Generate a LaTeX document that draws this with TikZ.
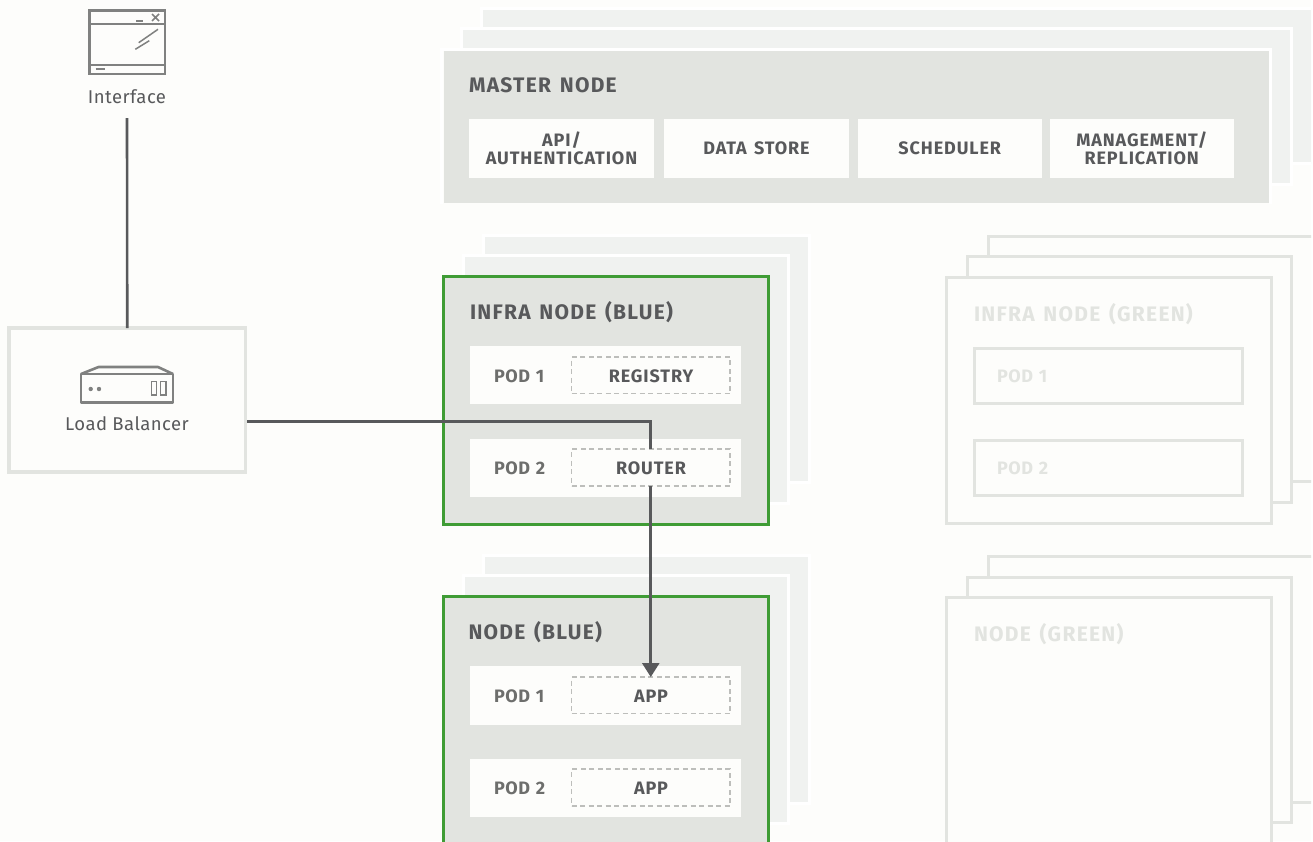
\documentclass[tikz,border=0pt]{standalone}
\usepackage{fontspec}
\usetikzlibrary{fit,arrows.meta}
\setmainfont{Fira Sans}
\newfontfamily\headfont[LetterSpace=6,WordSpace=1.4]{Fira Sans}
\newfontfamily\boxfont[LetterSpace=5,WordSpace=1.4]{Fira Sans}
\newfontfamily\podfont[LetterSpace=3,WordSpace=1.2,Numbers=Proportional]{Fira Sans}
\newfontfamily\plainfont[LetterSpace=2.5]{Fira Sans}
\definecolor{pagebg}{HTML}{FDFDFB}
\definecolor{panel}{HTML}{E2E4E0}
\definecolor{stack}{HTML}{F0F2F0}
\definecolor{ink}{HTML}{58595B}
\definecolor{podink}{HTML}{6D6E6C}
\definecolor{dashc}{HTML}{BDBEBB}
\definecolor{icon}{HTML}{808180}
\definecolor{grn}{HTML}{3F9C35}
\tikzset{
  x=1pt,y=-1pt,
  every node/.style={inner sep=0pt,outer sep=0pt},
  hd/.style={font=\headfont\bfseries\fontsize{21}{23}\selectfont,text=ink,anchor=west},
  hdoff/.style={hd,text=panel},
  podl/.style={font=\podfont\bfseries\fontsize{18}{20}\selectfont,text=podink,anchor=west},
  podoff/.style={podl,text=panel},
  boxl/.style={font=\boxfont\bfseries\fontsize{18}{18}\selectfont,text=ink,align=center},
  stackback/.style={fill=stack,draw=white,line width=3pt},
  panelbox/.style={fill=panel},
  bluenode/.style={fill=panel,draw=grn,line width=3pt},
  offnode/.style={fill=pagebg,draw=panel,line width=3pt},
  whitebox/.style={fill=pagebg},
  dashbox/.style={fill=pagebg,draw=dashc,line width=1.6pt,dash pattern=on 5pt off 3.5pt},
  offpod/.style={draw=panel,line width=3pt},
  wire/.style={draw=ink,line width=2.6pt},
  iconthick/.style={draw=icon,line width=2.6pt},
  iconthin/.style={draw=icon,line width=1.5pt},
  plain/.style={font=\plainfont\fontsize{18.5}{20}\selectfont,text=ink},
}
\begin{document}
\begin{tikzpicture}
\useasboundingbox (0,0) rectangle (1313,841);
\fill[white] (0,0) rectangle (1313,841);
\clip (0,0) rectangle (1311,841);
\fill[pagebg] (0,0) rectangle (1311,841);
% master stack
\path[stackback] (481.5,8) rectangle (1320,163.5);
\path[stackback] (461.5,28.5) rectangle (1291.5,184.5);
\draw[white,line width=3pt] (441.5,49.5) rectangle (1270.5,205);
\fill[pagebg] (440,204) rectangle (1273,210);
\node[panelbox,fit={(443.5,51)(1268.5,203)}] (master) {};
\node[hd] (mastert) at (469,85) {MASTER NODE};
\node[whitebox,fit={(469,119)(654,177.5)}] (api) {};
\node[whitebox,fit={(664,119)(849,177.5)}] (store) {};
\node[whitebox,fit={(857.5,119)(1042,177.5)}] (sched) {};
\node[whitebox,fit={(1049.5,119)(1234,177.5)}] (mgmt) {};
\node[boxl] (apit) at (api.center) {API/\\AUTHENTICATION};
\node[boxl] (storet) at (store.center) {DATA STORE};
\node[boxl] (schedt) at (sched.center) {SCHEDULER};
\node[boxl] (mgmtt) at (mgmt.center) {MANAGEMENT/\\REPLICATION};
% infra blue
\path[stackback] (483.5,235.5) rectangle (809.5,482.5);
\path[stackback] (463,255.5) rectangle (788.5,503.5);
\node[bluenode,fit={(443,276.5)(768,524)}] (infrab) {};
\node[hd] (infrabt) at (470,312) {INFRA NODE (BLUE)};
\node[whitebox,fit={(469.5,346)(741,404)}] (ib1) {};
\node[whitebox,fit={(469.5,438.5)(741,497)}] (ib2) {};
\node[podl] (ib1t) at (494,376) {POD 1};
\node[podl] (ib2t) at (494,468) {POD 2};
\node[dashbox,fit={(571.5,357)(730,393.5)}] (registry) {};
\node[dashbox,fit={(571.5,449)(730,486)}] (router) {};
\node[boxl] (registryt) at (651,376) {REGISTRY};
\node[boxl] (routert) at (651,468) {ROUTER};
% node blue
\path[stackback] (483.5,555.5) rectangle (809.5,803);
\path[stackback] (463,575.5) rectangle (788.5,823.5);
\node[bluenode,fit={(443,596.5)(768,860)}] (nodeb) {};
\node[hd] (nodebt) at (468.5,632) {NODE (BLUE)};
\node[whitebox,fit={(469.5,666)(741,724.5)}] (nb1) {};
\node[whitebox,fit={(469.5,758.7)(741,817)}] (nb2) {};
\node[podl] (nb1t) at (494,696) {POD 1};
\node[podl] (nb2t) at (494,788) {POD 2};
\node[dashbox,fit={(571.5,677)(730,713.5)}] (app1) {};
\node[dashbox,fit={(571.5,769)(730,806)}] (app2) {};
\node[boxl] (app1t) at (651,696) {APP};
\node[boxl] (app2t) at (651,788) {APP};
% infra green
\node[offnode,fit={(988,236)(1340,481.5)}] (ig3) {};
\node[offnode,fit={(967.5,256.5)(1291,502.5)}] (ig2) {};
\node[offnode,fit={(946.5,277)(1271,523.5)}] (ig1) {};
\node[hdoff] (igt) at (974,314) {INFRA NODE (GREEN)};
\node[offpod,fit={(974.7,348)(1242.7,403)}] (igp1) {};
\node[offpod,fit={(974.7,440.5)(1242.7,495)}] (igp2) {};
\node[podoff] (igp1t) at (997,376) {POD 1};
\node[podoff] (igp2t) at (997,468) {POD 2};
% node green
\node[offnode,fit={(988,556)(1340,802)}] (ng3) {};
\node[offnode,fit={(967.5,577)(1291,822.5)}] (ng2) {};
\node[offnode,fit={(946.5,597)(1271,860)}] (ng1) {};
\node[hdoff] (ngt) at (974,634) {NODE (GREEN)};
% load balancer
\node[fill=pagebg,draw=panel,line width=3.6pt,fit={(9,328)(245.5,472)}] (lb) {};
\node[plain] (lbt) at (127,424) {Load Balancer};
\draw[iconthick,line join=round,fill=pagebg] (81,374) -- (173,374) -- (173,402.3) -- (81,402.3) -- cycle;
\draw[iconthick,line join=round] (81,374) -- (98.5,367) -- (158,367) -- (173,374);
\fill[icon] (90.7,389) circle (2.2) (99,389) circle (2.2);
\draw[iconthin] (151.7,381.7) rectangle (156.7,395);
\draw[iconthin] (160.5,381.7) rectangle (166,395);
% interface
\draw[iconthick] (89.5,10.5) rectangle (165,74);
\draw[iconthick] (89.5,24) -- (165,24);
\draw[iconthick] (89.5,65) -- (165,65);
\draw[iconthin] (136,21) -- (143,21);
\draw[iconthin] (152,14) -- (159,21) (159,14) -- (152,21);
\draw[iconthin] (158,29.3) -- (138.7,42.7);
\draw[iconthin] (149.3,40.7) -- (135.3,49.3);
\draw[iconthin] (95.7,69) -- (105.3,69);
\node[plain] (ift) at (127,97) {Interface};
% connectors
\coordinate (ifend) at (127,118);
\coordinate (lbwire) at (247,421.5);
\draw[wire] (ifend) -- (lb.north);
\draw[wire] (lbwire) -| (router.north);
\draw[wire,-{Triangle[width=17pt,length=14pt]}] (router.south) -- (app1.north);
\end{tikzpicture}
\end{document}
